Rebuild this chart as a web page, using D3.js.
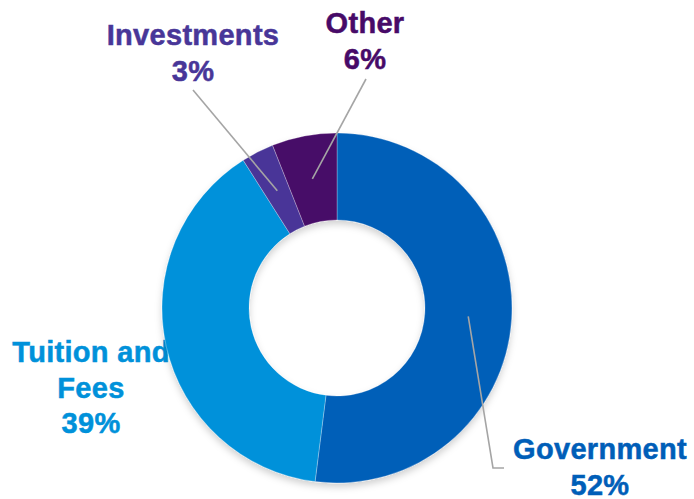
<!DOCTYPE html>
<html>
<head>
<meta charset="utf-8">
<script src="https://cdn.jsdelivr.net/npm/d3@7/dist/d3.min.js"></script>
<style>
  html, body { margin: 0; padding: 0; background: #fff; }
  svg { display: block; }
  text { font-family: "Liberation Sans", Arial, sans-serif; font-weight: bold; }
</style>
</head>
<body>
<svg id="chart" width="694" height="499"></svg>
<script>
// Revenue sources, share of total (%), clockwise from 12 o'clock
const categories = ["Government", "Tuition and Fees", "Investments", "Other"];
const shares = [52, 39, 3, 6];
const labelLines = [["Government"], ["Tuition and", "Fees"], ["Investments"], ["Other"]];
const colors = ["#005EB8", "#0091DA", "#483698", "#470A68"];

const W = 694, H = 499;
const cx = 337, cy = 308;
const outerR = 175, innerR = 88;

// Label placement (offsets from the donut centre) and leader elbows
const labelLayout = {
  "Government":       { x: 263, y: 151, leader: [[156, 160], [167, 160]] },
  "Tuition and Fees": { x: -246, y: 54, leader: null },
  "Investments":      { x: -144, y: -263, leader: [[-144, -218]] },
  "Other":            { x: 28,  y: -275, leader: [[29, -229]] }
};

const svg = d3.select("#chart");
const defs = svg.append("defs");
const shadow = defs.append("filter").attr("id", "ringShadow")
  .attr("x", "-20%").attr("y", "-20%").attr("width", "140%").attr("height", "140%");
shadow.append("feDropShadow")
  .attr("dx", 0).attr("dy", 4).attr("stdDeviation", 3.5)
  .attr("flood-color", "#000").attr("flood-opacity", 0.18);

const data = categories.map((c, i) => ({ category: c, value: shares[i], lines: labelLines[i], color: colors[i] }));

const pie = d3.pie().value(d => d.value).sort(null).startAngle(0).endAngle(2 * Math.PI);
const arcs = pie(data);
const arc = d3.arc().innerRadius(innerR).outerRadius(outerR);

const g = svg.append("g").attr("transform", `translate(${cx},${cy})`);

// Labels sit beneath the ring (the tuition label tucks under its edge)
const labels = g.append("g");
arcs.forEach(a => {
  const L = labelLayout[a.data.category];
  const t = labels.append("text")
    .attr("text-anchor", "middle")
    .attr("fill", a.data.color)
    .attr("stroke", a.data.color)
    .attr("stroke-width", 0.5)
    .style("font-size", "29px")
    .style("letter-spacing", "0.3px");
  const lines = a.data.lines.concat([a.data.value + "%"]);
  lines.forEach((ln, i) => {
    t.append("tspan").attr("x", L.x).attr("y", L.y + i * 35.5).text(ln);
  });
});

// Ring
g.append("g").attr("filter", "url(#ringShadow)")
  .selectAll("path").data(arcs).join("path")
  .attr("d", arc)
  .attr("fill", d => d.data.color)
  .attr("stroke", "#ffffff")
  .attr("stroke-opacity", 0.35)
  .attr("stroke-width", 0.8);

// Leader lines from slice centroids to labels
const line = d3.line();
arcs.forEach(a => {
  const L = labelLayout[a.data.category];
  if (!L.leader) return;
  const pts = [arc.centroid(a)].concat(L.leader);
  g.append("path")
    .attr("d", line(pts))
    .attr("fill", "none")
    .attr("stroke", "#A5A5A5")
    .attr("stroke-width", 1.6);
});
</script>
</body>
</html>
